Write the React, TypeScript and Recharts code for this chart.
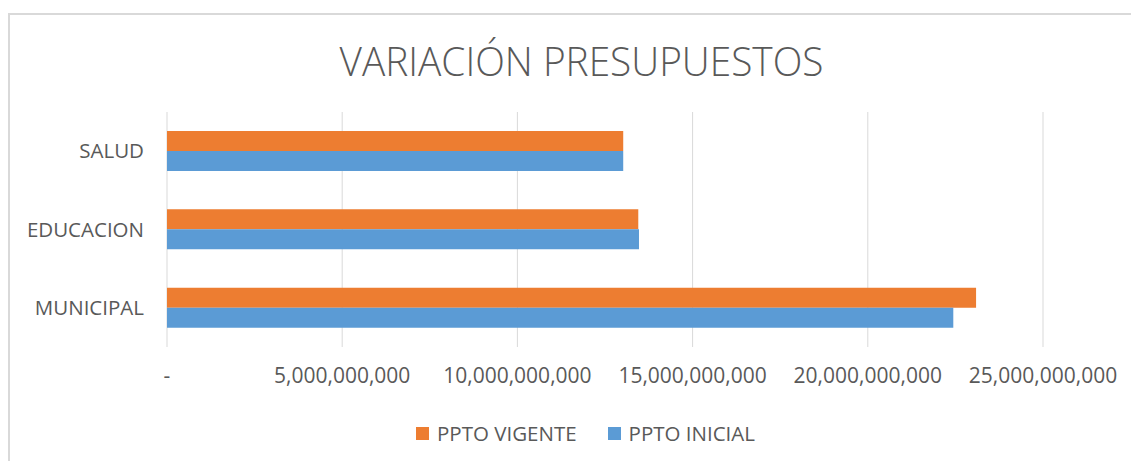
import { BarChart, Bar, XAxis, YAxis, CartesianGrid } from 'recharts';

const categories = ['SALUD', 'EDUCACION', 'MUNICIPAL'];
const pptoVigente = [13.02e9, 13.45e9, 23.09e9];
const pptoInicial = [13.02e9, 13.47e9, 22.44e9];
const xTicks = [0, 5e9, 10e9, 15e9, 20e9, 25e9];

const SERIES = [
  { key: 'vigente', name: 'PPTO VIGENTE', color: '#ED7D31' },
  { key: 'inicial', name: 'PPTO INICIAL', color: '#5B9BD5' },
];

const TEXT = '#595959';
const FONT = '"Open Sans", sans-serif';

const data = categories.map((name, i) => ({
  name,
  vigente: pptoVigente[i],
  inicial: pptoInicial[i],
}));

const fmt = (v: number) => (v === 0 ? '-' : v.toLocaleString('en-US'));

export default function App() {
  return (
    <div style={{ position: 'relative', width: 1131, height: 453, fontFamily: FONT }}>
      <div
        style={{
          position: 'absolute', left: 0, top: 5, width: 1131, height: 448,
          borderLeft: '2px solid #d9d9d9', borderTop: '2px solid #d9d9d9',
        }}
      />
      <div
        style={{
          position: 'absolute', left: 0, width: 1146, top: 25, textAlign: 'center',
          fontSize: 40, fontWeight: 300, color: TEXT, lineHeight: '56px',
        }}
      >
        <span style={{ display: 'inline-block', transform: 'scaleX(0.97)' }}>
          VARIACIÓN PRESUPUESTOS
        </span>
      </div>
      <div style={{ position: 'absolute', left: 0, top: 0 }}>
        <BarChart
          width={1131}
          height={453}
          data={data}
          layout="vertical"
          margin={{ top: 104, right: 96, left: 0, bottom: 114 - 40 }}
          barSize={20}
          barGap={0}
        >
          <CartesianGrid stroke="#d9d9d9" horizontal={false} />
          <XAxis
            type="number"
            domain={[0, 25e9]}
            ticks={xTicks}
            tickFormatter={fmt}
            axisLine={false}
            tickLine={false}
            tickSize={0}
            tickMargin={21}
            height={40}
            interval={0}
            tick={{ fill: TEXT, fontSize: 21, fontFamily: FONT }}
          />
          <YAxis
            type="category"
            dataKey="name"
            width={159}
            axisLine={false}
            tickLine={false}
            tickSize={0}
            tickMargin={23}
            tick={{ fill: TEXT, fontSize: 20.5, fontFamily: FONT }}
          />
          {SERIES.map(s => (
            <Bar key={s.key} dataKey={s.key} name={s.name} fill={s.color} isAnimationActive={false} />
          ))}
        </BarChart>
      </div>
      <div
        style={{
          position: 'absolute', left: 408, top: 411, display: 'flex', alignItems: 'center',
          fontSize: 20.5, color: TEXT,
        }}
      >
        {SERIES.map((s, i) => (
          <div key={s.key} style={{ display: 'flex', alignItems: 'center', marginRight: i === 0 ? 31 : 0 }}>
            <span style={{ width: 13, height: 13, background: s.color, marginRight: 8, display: 'inline-block' }} />
            <span>{s.name}</span>
          </div>
        ))}
      </div>
    </div>
  );
}
